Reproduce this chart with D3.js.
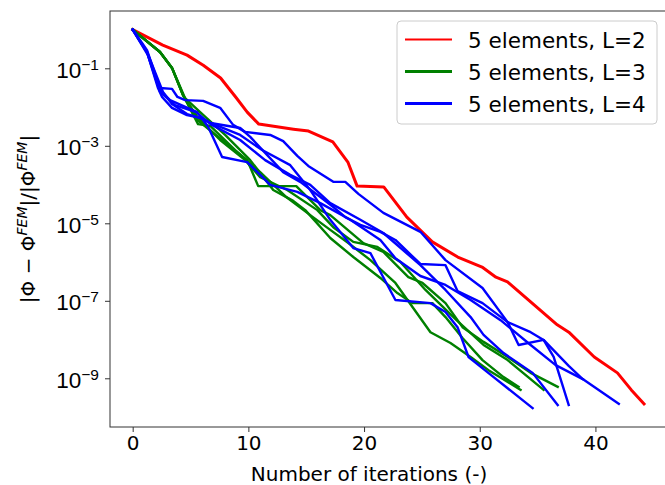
<!DOCTYPE html>
<html>
<head>
<meta charset="utf-8">
<script src="https://cdn.jsdelivr.net/npm/d3@7"></script>
<style>
  html, body { margin: 0; padding: 0; background: #fff; }
  svg { display: block; font-family: "DejaVu Sans", sans-serif; }
</style>
</head>
<body>
<div id="chart"></div>
<script>
/*****************************************************
 * convergence plot: |Φ - Φ^FEM| / |Φ^FEM| vs iterations
 * y values are stored as log10 of the relative error
 *****************************************************/

// legend entries
const seriesNames = ["5 elements, L=2", "5 elements, L=3", "5 elements, L=4"];
const seriesColors = ["#ff0000", "#008000", "#0000ff"];

// L=2 (one run)
const redX = [0, 2.6, 4.7, 6.1, 7.6, 8.9, 9.9, 10.9, 13.9, 15.2, 17.3, 18.6, 19.4, 21.7, 23.7, 25.9, 28.1, 30.2, 31.4, 32.4, 34.4, 36.7, 37.7, 39.9, 41.9, 43.1, 44.2];
const redLog = [0, -0.40, -0.66, -0.92, -1.25, -1.74, -2.13, -2.44, -2.57, -2.62, -2.90, -3.42, -4.04, -4.06, -4.84, -5.48, -5.87, -6.13, -6.39, -6.51, -7.03, -7.62, -7.81, -8.45, -8.86, -9.30, -9.66];

// L=3 (four runs)
const green1X = [0, 2.36, 3.40, 4.35, 5.57, 7.73, 9.90, 10.85, 14.14, 16.22, 17.08, 19.94, 21.67, 23.83, 25.05, 27.04, 28.51, 30.33, 32.41, 34.40, 36.74];
const green1Log = [0, -0.58, -0.99, -1.69, -2.33, -2.85, -3.37, -4.04, -4.04, -4.66, -4.79, -5.51, -5.74, -6.39, -6.54, -7.06, -7.68, -8.06, -8.45, -8.86, -9.22];
const green2X = [0, 2.36, 3.40, 4.35, 5.65, 6.73, 8.86, 11.02, 13.19, 15.35, 17.08, 18.64, 20.55, 22.71, 25.74, 27.47, 29.21, 30.76, 33.53];
const green2Log = [0, -0.58, -0.99, -1.69, -2.44, -2.49, -3.11, -3.68, -4.30, -4.79, -5.17, -5.51, -5.95, -6.54, -7.81, -8.09, -8.45, -8.79, -9.30];
const green3X = [0, 2.36, 3.40, 4.53, 5.83, 7.99, 10.16, 12.15, 13.88, 14.92, 17.08, 19.07, 21.41, 22.88, 24.18, 25.91, 27.04, 28.51, 30.24, 32.06, 33.36];
const green3Log = [0, -0.58, -0.99, -1.77, -2.13, -2.72, -3.37, -4.14, -4.42, -4.66, -5.38, -5.87, -6.41, -6.80, -7.06, -7.06, -7.42, -7.96, -8.53, -8.97, -9.22];
const green4X = [0, 2.36, 3.40, 4.35, 5.65, 7.56, 9.72, 11.02, 13.36, 15.96, 17.34, 19.07, 21.15, 23.14, 25.31, 27.99, 30.33, 32.41, 35.52];
const green4Log = [0, -0.58, -0.99, -1.69, -2.28, -2.85, -3.37, -3.81, -4.14, -4.66, -5.10, -5.48, -5.61, -6.00, -6.72, -7.50, -8.14, -8.53, -9.30];

// L=4 (five runs)
const blue1X = [0, 1.24, 2.36, 3.40, 3.87, 4.53, 6.09, 7.56, 8.68, 9.72, 11.89, 13.01, 14.23, 15.18, 17.34, 18.38, 19.51, 21.67, 24.87, 27.04, 30.24, 32.41, 33.36, 35.52, 37.69, 38.90, 42.02];
const blue1Log = [0, -0.53, -1.51, -1.53, -1.74, -1.82, -1.84, -2.02, -2.46, -2.64, -2.72, -2.88, -3.26, -3.52, -3.93, -3.93, -4.24, -4.73, -5.22, -5.95, -6.67, -7.55, -8.14, -8.01, -8.68, -9.02, -9.66];
const blue2X = [0, 1.24, 2.62, 3.40, 4.70, 5.83, 6.73, 9.29, 10.16, 13.01, 14.48, 16.22, 17.34, 18.38, 19.68, 21.41, 22.71, 24.87, 27.04, 28.08, 30.24, 32.41, 34.40, 35.52, 36.39, 37.69];
const blue2Log = [0, -0.58, -1.61, -1.92, -2.18, -2.28, -2.41, -2.54, -2.77, -3.68, -3.93, -4.32, -4.58, -4.84, -5.04, -5.22, -5.43, -6.05, -6.08, -6.75, -7.06, -7.55, -7.81, -8.01, -8.45, -9.69];
const blue3X = [0, 1.32, 2.36, 3.23, 5.57, 6.52, 7.73, 9.90, 10.85, 11.89, 14.23, 16.22, 18.81, 21.41, 22.71, 24.87, 27.04, 29.21, 31.80, 34.40, 36.56, 38.90];
const blue3Log = [0, -0.66, -1.56, -1.82, -2.13, -2.51, -3.29, -3.42, -3.70, -4.01, -4.19, -4.48, -4.91, -5.43, -5.90, -6.36, -6.59, -6.98, -7.50, -8.14, -8.66, -9.02];
const blue4X = [0, 1.24, 2.19, 2.54, 3.40, 4.70, 5.83, 6.73, 9.29, 11.19, 13.62, 15.35, 17.08, 19.07, 20.55, 22.71, 25.74, 27.04, 28.08, 29.03, 31.20, 34.57];
const blue4Log = [0, -0.58, -1.51, -1.74, -2.02, -2.21, -2.28, -2.41, -2.72, -3.11, -3.50, -4.14, -4.91, -5.64, -5.77, -6.98, -7.06, -7.29, -7.68, -8.45, -8.97, -9.77];
const blue5X = [0, 1.24, 2.36, 3.66, 5.48, 6.73, 9.29, 11.45, 13.62, 15.35, 17.08, 19.68, 21.67, 24.87, 27.04, 29.21, 30.33, 32.06, 34.57, 36.74];
const blue5Log = [0, -0.58, -1.61, -1.95, -2.13, -2.44, -2.85, -3.37, -3.75, -4.01, -4.48, -4.91, -5.25, -6.08, -6.72, -7.42, -7.88, -8.35, -8.86, -9.69];

// axis ticks
const xTicks = [0, 10, 20, 30, 40];
const yTickExps = [-1, -3, -5, -7, -9];

/*****************************************************
 * runs: [x, log10(err)] pairs + colour index
 *****************************************************/
function makeRun(xs, logs, k) {
  return { k: k, pts: xs.map((x, i) => [x, Math.pow(10, logs[i])]) };
}
const runs = [
  makeRun(redX, redLog, 0),
  makeRun(green1X, green1Log, 1),
  makeRun(green2X, green2Log, 1),
  makeRun(green3X, green3Log, 1),
  makeRun(green4X, green4Log, 1),
  makeRun(blue1X, blue1Log, 2),
  makeRun(blue2X, blue2Log, 2),
  makeRun(blue3X, blue3Log, 2),
  makeRun(blue4X, blue4Log, 2),
  makeRun(blue5X, blue5Log, 2)
];

const W = 665, H = 485;
const plot = { left: 110, top: 11, right: 666, bottom: 427 };

const svg = d3.select("#chart").append("svg")
  .attr("width", W)
  .attr("height", H);

const x = d3.scaleLinear()
  .domain([-1.96, 46.1])
  .range([plot.left, plot.right]);

const y = d3.scaleLog()
  .domain([Math.pow(10, -10.257), Math.pow(10, 0.479)])
  .range([plot.bottom, plot.top]);

const line = d3.line()
  .x(d => x(d[0]))
  .y(d => y(d[1]));

// lines
svg.append("g")
  .selectAll("path")
  .data(runs)
  .enter()
  .append("path")
  .attr("d", d => line(d.pts))
  .attr("fill", "none")
  .attr("stroke", d => seriesColors[d.k])
  .attr("stroke-width", d => d.k === 0 ? 3 : 2.4)
  .attr("stroke-linejoin", "round")
  .attr("stroke-linecap", "square");

// frame
svg.append("rect")
  .attr("x", plot.left)
  .attr("y", plot.top)
  .attr("width", plot.right - plot.left)
  .attr("height", plot.bottom - plot.top)
  .attr("fill", "none")
  .attr("stroke", "#333")
  .attr("stroke-width", 1);

// x axis
const xAxis = svg.append("g")
  .attr("transform", `translate(0,${plot.bottom})`)
  .call(d3.axisBottom(x).tickValues(xTicks).tickSize(5).tickPadding(4).tickFormat(d3.format("d")));
xAxis.select(".domain").remove();
xAxis.selectAll(".tick line").attr("stroke", "#333");
xAxis.selectAll(".tick text")
  .attr("fill", "#000")
  .attr("font-size", 20)
  .attr("font-family", "DejaVu Sans");

// y axis, labels as 10^n
const yAxis = svg.append("g")
  .attr("transform", `translate(${plot.left},0)`)
  .call(d3.axisLeft(y).tickValues(yTickExps.map(e => Math.pow(10, e))).tickSize(5).tickFormat(""));
yAxis.select(".domain").remove();
yAxis.selectAll(".tick line").attr("stroke", "#333");
yAxis.selectAll(".tick").each(function(d) {
  const e = Math.round(Math.log10(d));
  const t = d3.select(this).append("text")
    .attr("x", -11)
    .attr("y", 9)
    .attr("text-anchor", "end")
    .attr("fill", "#000")
    .attr("font-size", 22.5);
  t.append("tspan").text("10");
  t.append("tspan")
    .attr("dy", -8)
    .attr("font-size", 15.5)
    .text("\u2212" + Math.abs(e));
});

// axis titles
svg.append("text")
  .attr("x", 369)
  .attr("y", 481)
  .attr("text-anchor", "middle")
  .attr("font-size", 20)
  .text("Number of iterations (-)");

const yl = svg.append("text")
  .attr("transform", `translate(35,${(plot.top + plot.bottom) / 2}) rotate(-90)`)
  .attr("text-anchor", "middle")
  .attr("font-size", 20);
yl.append("tspan").text("|\u03A6 \u2212 \u03A6");
yl.append("tspan").attr("dy", -8).attr("font-size", 14).attr("font-style", "italic").text("FEM");
yl.append("tspan").attr("dy", 8).text("|/|\u03A6");
yl.append("tspan").attr("dy", -8).attr("font-size", 14).attr("font-style", "italic").text("FEM");
yl.append("tspan").attr("dy", 8).text("|");

// legend
const lg = svg.append("g").attr("transform", "translate(397,21)");
lg.append("rect")
  .attr("width", 260)
  .attr("height", 103)
  .attr("rx", 4)
  .attr("fill", "#fff")
  .attr("fill-opacity", 0.8)
  .attr("stroke", "#cccccc")
  .attr("stroke-width", 1);
seriesNames.forEach((name, i) => {
  const yy = 18.5 + i * 32;
  lg.append("line")
    .attr("x1", 8).attr("x2", 55)
    .attr("y1", yy).attr("y2", yy)
    .attr("stroke", seriesColors[i])
    .attr("stroke-width", i === 0 ? 2 : 3);
  lg.append("text")
    .attr("x", 71)
    .attr("y", yy + 8)
    .attr("font-size", 21.5)
    .text(name);
});
</script>
</body>
</html>
